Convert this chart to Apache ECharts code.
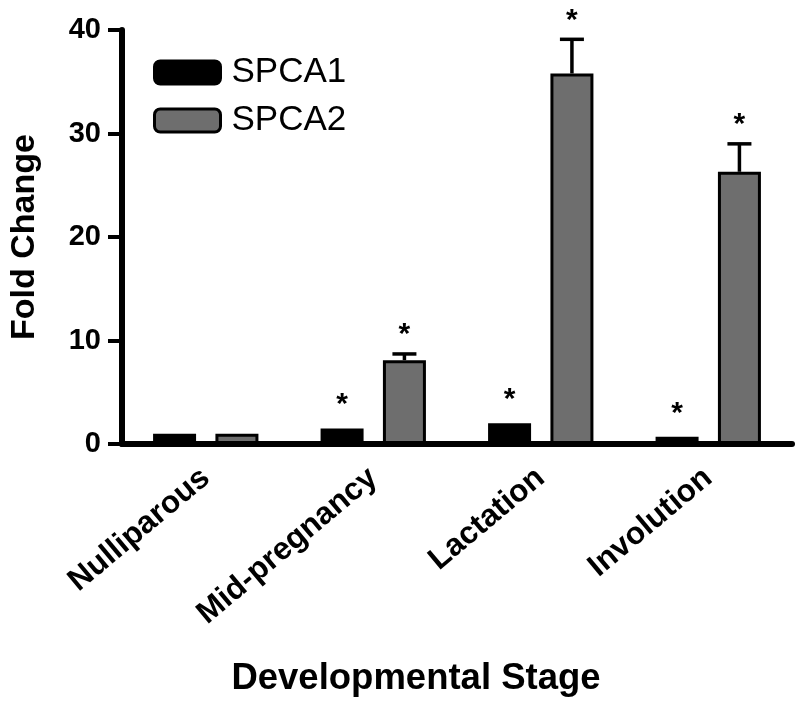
<!DOCTYPE html>
<html>
<head>
<meta charset="utf-8">
<script src="https://cdn.jsdelivr.net/npm/echarts@6/dist/echarts.min.js"></script>
<style>html,body{margin:0;padding:0;background:#fff}#c{width:800px;height:705px}</style>
</head>
<body>
<div id="c"></div>
<script>
var categories = ['Nulliparous', 'Mid-pregnancy', 'Lactation', 'Involution'];
var seriesNames = ['SPCA1', 'SPCA2'];
var spca1 = [1.0, 1.5, 2.0, 0.7];
var spca2 = [1.0, 8.1, 35.8, 26.3];
var err1 = [0.05, 0.1, 0.1, 0.05];
var err2 = [0.05, 0.6, 3.3, 2.7];
var sig1 = [0, 1, 1, 1];
var sig2 = [0, 1, 1, 1];
var yTicks = [0, 10, 20, 30, 40];

var FONT = '"Liberation Sans", Arial, Helvetica, sans-serif';
var BAR_W = 43, BAR_GAP = 0.45;
var OFFSET = (BAR_W + BAR_W * BAR_GAP) / 2;

function errData(vals, errs, sig) {
  return vals.map(function (v, i) { return [i, v, errs[i], sig[i]]; });
}
function makeErr(name, vals, errs, sig, dir, starGap) {
  return {
    type: 'custom',
    name: name + ' err',
    z: 5,
    silent: true,
    data: errData(vals, errs, sig),
    renderItem: function (params, api) {
      var xi = api.value(0), v = api.value(1), e = api.value(2), s = api.value(3);
      var base = api.coord([xi, v]);
      var top = api.coord([xi, v + e]);
      var x = base[0] + dir * OFFSET;
      var children = [];
      if (top[1] < base[1] - 3) {
        children.push({ type: 'line', shape: { x1: x, y1: base[1], x2: x, y2: top[1] }, style: { stroke: '#000', lineWidth: 3.5 } });
        children.push({ type: 'line', shape: { x1: x - 12, y1: top[1], x2: x + 12, y2: top[1] }, style: { stroke: '#000', lineWidth: 3.5 } });
      }
      if (s) {
        children.push({ type: 'text', style: { text: '*', x: x, y: top[1] - starGap, fill: '#000', font: 'bold 30px ' + FONT, textAlign: 'center', textVerticalAlign: 'middle' } });
      }
      return { type: 'group', children: children };
    }
  };
}

var chart = echarts.init(document.getElementById('c'), null, { renderer: 'canvas' });
chart.setOption({
  animation: false,
  backgroundColor: '#fff',
  grid: { left: 114, right: 8, top: 30, bottom: 261, containLabel: false },
  legend: {
    data: seriesNames,
    orient: 'vertical',
    left: 148, top: 50,
    itemWidth: 66, itemHeight: 23,
    itemGap: 13,
    textStyle: { fontFamily: FONT, fontSize: 35, color: '#000', padding: [0, 0, 0, 6] },
    itemStyle: { borderColor: '#000', borderWidth: 3 }
  },
  xAxis: {
    type: 'category',
    data: categories,
    axisLine: { show: true, lineStyle: { color: '#000', width: 6 } },
    axisTick: { show: false },
    axisLabel: { rotate: 40, margin: 30, fontFamily: FONT, fontWeight: 'bold', fontSize: 31.5, color: '#000', interval: 0 },
    name: 'Developmental Stage',
    nameLocation: 'middle',
    nameGap: 216,
    nameTextStyle: { fontFamily: FONT, fontWeight: 'bold', fontSize: 36.5, color: '#000', padding: [0, 82, 0, 0], verticalAlign: 'top' }
  },
  yAxis: {
    type: 'value',
    min: yTicks[0], max: yTicks[yTicks.length - 1], interval: 10,
    axisLine: { show: true, lineStyle: { color: '#000', width: 6 } },
    axisTick: { show: true, length: 14, lineStyle: { color: '#000', width: 4 } },
    splitLine: { show: false },
    axisLabel: { margin: 21, fontFamily: FONT, fontWeight: 'bold', fontSize: 29, color: '#000' },
    name: 'Fold Change',
    nameLocation: 'middle',
    nameGap: 80,
    nameTextStyle: { fontFamily: FONT, fontWeight: 'bold', fontSize: 34, color: '#000' }
  },
  series: [
    { type: 'bar', name: seriesNames[0], data: spca1, barWidth: BAR_W, barGap: (BAR_GAP * 100) + '%',
      itemStyle: { color: '#000', borderColor: '#000', borderWidth: 3 } },
    { type: 'bar', name: seriesNames[1], data: spca2, barWidth: BAR_W, barGap: (BAR_GAP * 100) + '%',
      itemStyle: { color: '#6e6e6e', borderColor: '#000', borderWidth: 3 } },
    makeErr(seriesNames[0], spca1, err1, sig1, -1, 23),
    makeErr(seriesNames[1], spca2, err2, sig2, 1, 19)
  ]
});
</script>
</body>
</html>
